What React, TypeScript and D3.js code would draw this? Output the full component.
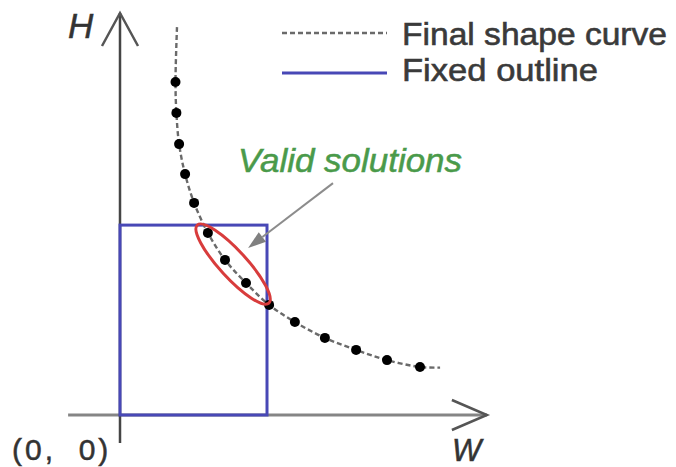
import React from "react";
import * as d3 from "d3";

// Final shape curve: sampled points (W, H) in chart units
const curveW = [1.85, 1.88, 1.97, 2.17, 2.47, 2.93, 3.5, 4.2, 4.97, 5.83, 6.83, 7.87, 8.9, 10.0];
const curveH = [11.1, 10.07, 9.03, 8.03, 7.07, 6.07, 5.17, 4.4, 3.67, 3.1, 2.57, 2.17, 1.83, 1.6];
// ends of the dashed curve (beyond the sampled points)
const curveStart = [1.9, 12.93];
const curveEnd = [10.67, 1.58];
// fixed outline (rectangle) width and height
const outlineW = 4.9;
const outlineH = 6.33;
// valid solution region (ellipse centre)
const validCenter = [3.77, 5.03];
// pointer from label to region
const pointerFrom = [7.1, 7.73];
const pointerTo = [4.27, 5.57];
// axis extents
const axisW = [-1.73, 12.23];
const axisH = [-0.93, 13.4];

const legendLabels = ["Final shape curve", "Fixed outline"];
const validLabel = "Valid solutions";
const originLabel = "(0,  0)";

export default function App() {
  const width = 676;
  const height = 467;
  const x = d3.scaleLinear().domain([0, 10]).range([120, 420]);
  const y = d3.scaleLinear().domain([0, 13]).range([415, 25]);

  const pts: [number, number][] = curveW.map((w, i) => [w, curveH[i]]);
  const all: [number, number][] = [[curveStart[0], curveStart[1]], ...pts, [curveEnd[0], curveEnd[1]]];
  const line = d3
    .line<[number, number]>()
    .x((d) => x(d[0]))
    .y((d) => y(d[1]))
    .curve(d3.curveCatmullRom.alpha(0.5));

  const ax = x(0);
  const ay = y(0);
  const xEnd = x(axisW[1]);
  const yEnd = y(axisH[1]);

  const pfx = x(pointerFrom[0]);
  const pfy = y(pointerFrom[1]);
  const ptx = x(pointerTo[0]);
  const pty = y(pointerTo[1]);
  const ang = Math.atan2(pty - pfy, ptx - pfx);
  const headLen = 18;
  const headW = 6;
  const bx = ptx - headLen * Math.cos(ang);
  const by = pty - headLen * Math.sin(ang);
  const nx = -Math.sin(ang);
  const ny = Math.cos(ang);

  const textStyle: React.CSSProperties = { fontFamily: "'Liberation Sans', Arial, sans-serif" };

  return (
    <svg
      width={width}
      height={height}
      style={{ position: "fixed", left: 0, top: 0, background: "#fff" }}
      viewBox={`0 0 ${width} ${height}`}
    >
      <rect x={0} y={0} width={width} height={height} fill="#fff" />
      {/* x axis */}
      <line x1={x(axisW[0])} y1={ay} x2={xEnd} y2={ay} stroke="#858585" strokeWidth={3} />
      <polyline
        points={`${xEnd - 35},${ay - 15} ${xEnd},${ay} ${xEnd - 35},${ay + 15}`}
        fill="none"
        stroke="#555"
        strokeWidth={2.5}
      />
      {/* y axis */}
      <line x1={ax} y1={y(axisH[0])} x2={ax} y2={yEnd} stroke="#454545" strokeWidth={2.5} />
      <polyline
        points={`${ax - 18},${yEnd + 33} ${ax},${yEnd} ${ax + 18},${yEnd + 33}`}
        fill="none"
        stroke="#555"
        strokeWidth={2.5}
      />

      {/* fixed outline */}
      <rect
        x={x(0)}
        y={y(outlineH)}
        width={x(outlineW) - x(0)}
        height={y(0) - y(outlineH)}
        fill="none"
        stroke="#4848b6"
        strokeWidth={3}
      />

      {/* final shape curve */}
      <path d={line(all) || ""} fill="none" stroke="#6a6a6a" strokeWidth={2.4} strokeDasharray="5,3" />
      {pts.map((p, i) => (
        <circle key={i} cx={x(p[0])} cy={y(p[1])} r={5} fill="#000" />
      ))}

      {/* valid solution ellipse */}
      <ellipse
        cx={x(validCenter[0])}
        cy={y(validCenter[1])}
        rx={53}
        ry={13.5}
        transform={`rotate(47.5 ${x(validCenter[0])} ${y(validCenter[1])})`}
        fill="none"
        stroke="#d83c3c"
        strokeWidth={3}
      />

      {/* pointer */}
      <line x1={pfx} y1={pfy} x2={bx} y2={by} stroke="#8c8c8c" strokeWidth={2} />
      <polygon
        points={`${ptx},${pty} ${bx + nx * headW},${by + ny * headW} ${bx - nx * headW},${by - ny * headW}`}
        fill="#808080"
      />

      {/* legend */}
      <line x1={282} y1={33} x2={387} y2={33} stroke="#6a6a6a" strokeWidth={2.4} strokeDasharray="5,3" />
      <line x1={282} y1={73} x2={387} y2={73} stroke="#4848b6" strokeWidth={3} />
      <text x={402} y={45} fontSize={32} fill="#3a3a3a" stroke="#3a3a3a" strokeWidth={0.6} style={textStyle} textLength={265} lengthAdjust="spacingAndGlyphs">
        {legendLabels[0]}
      </text>
      <text x={402} y={81} fontSize={32} fill="#3a3a3a" stroke="#3a3a3a" strokeWidth={0.6} style={textStyle} textLength={196} lengthAdjust="spacingAndGlyphs">
        {legendLabels[1]}
      </text>

      {/* valid label */}
      <text
        x={238}
        y={172}
        fontSize={33}
        fontStyle="italic"
        fill="#4a9a4a"
        stroke="#4a9a4a"
        strokeWidth={0.5}
        style={textStyle}
        textLength={224}
        lengthAdjust="spacingAndGlyphs"
      >
        {validLabel}
      </text>

      {/* axis labels */}
      <text x={68} y={38} fontSize={35} fontStyle="italic" fill="#333" stroke="#333" strokeWidth={0.5} style={textStyle}>
        H
      </text>
      <text x={452} y={461} fontSize={31} fontStyle="italic" fill="#333" stroke="#333" strokeWidth={0.5} style={textStyle}>
        W
      </text>
      <text
        x={12}
        y={460}
        fontSize={30}
        fill="#333"
        stroke="#333"
        strokeWidth={0.5}
        letterSpacing={3}
        style={{ ...textStyle, whiteSpace: "pre" }}
      >
        {originLabel}
      </text>
    </svg>
  );
}
